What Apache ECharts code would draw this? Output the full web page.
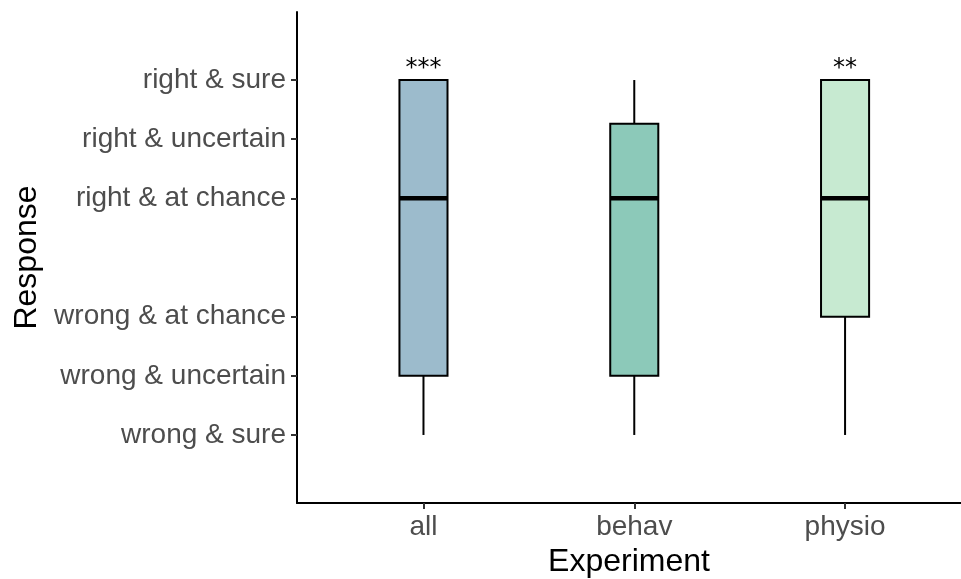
<!DOCTYPE html>
<html><head><meta charset="utf-8">
<script src="https://cdn.jsdelivr.net/npm/echarts@6/dist/echarts.min.js"></script>
<style>html,body{margin:0;padding:0;background:#fff}#c{width:961px;height:579px}</style>
</head><body><div id="c"></div>
<script>
const categories = ['all', 'behav', 'physio'];
const lowWhisker = [-3, -3, -3];
const q1 = [-2, -2, -1];
const median = [1, 1, 1];
const q3 = [3, 2.26, 3];
const highWhisker = [3, 3, 3];
const stars = ['***', '', '**'];
const boxColors = ['#9CBBCC', '#8CC9B9', '#C7EAD1'];
const yTickValues = [-3, -2, -1, 1, 2, 3];
const yTickLabels = ['wrong & sure', 'wrong & uncertain', 'wrong & at chance', 'right & at chance', 'right & uncertain', 'right & sure'];

const data = categories.map((c, i) => [i + 1, lowWhisker[i], q1[i], median[i], q3[i], highWhisker[i], i]);

const chart = echarts.init(document.getElementById('c'), null, {renderer: 'canvas'});
chart.setOption({
  animation: false,
  backgroundColor: '#fff',
  grid: {left: 297, right: 0, top: 12, bottom: 76, containLabel: false, outerBoundsMode: 'none'},
  xAxis: {
    type: 'value', min: 0.4, max: 3.55,
    name: 'Experiment', nameLocation: 'middle', nameGap: 41,
    nameTextStyle: {fontFamily: 'Liberation Sans', fontSize: 32, color: '#000'},
    axisLine: {onZero: false, lineStyle: {color: '#000', width: 2}},
    axisTick: {customValues: [1, 2, 3], length: 6, lineStyle: {color: '#333', width: 2}},
    axisLabel: {customValues: [1, 2, 3], formatter: v => categories[Math.round(v) - 1],
      fontFamily: 'Liberation Sans', fontSize: 28, color: '#4D4D4D', margin: 10},
    splitLine: {show: false}
  },
  yAxis: {
    type: 'value', min: -4.15, max: 4.15,
    name: 'Response', nameLocation: 'middle', nameGap: 252, nameRotate: 90,
    nameTextStyle: {fontFamily: 'Liberation Sans', fontSize: 32, color: '#000'},
    axisLine: {onZero: false, show: true, lineStyle: {color: '#000', width: 2}},
    axisTick: {show: true, customValues: yTickValues, length: 6, lineStyle: {color: '#333', width: 2}},
    axisLabel: {customValues: yTickValues, formatter: v => yTickLabels[yTickValues.indexOf(Math.round(v))],
      fontFamily: 'Liberation Sans', fontSize: 28, color: '#4D4D4D', margin: 11},
    splitLine: {show: false}
  },
  series: [{
    type: 'custom',
    data: data,
    encode: {x: 0, y: [1, 2, 3, 4, 5]},
    renderItem: function (params, api) {
      const x = api.value(0);
      const idx = api.value(6);
      const pLow = api.coord([x, api.value(1)]);
      const pQ1 = api.coord([x, api.value(2)]);
      const pMed = api.coord([x, api.value(3)]);
      const pQ3 = api.coord([x, api.value(4)]);
      const pHigh = api.coord([x, api.value(5)]);
      const w = api.size([1, 0])[0] * 0.228;
      const cx = pMed[0];
      const children = [
        {type: 'line', shape: {x1: cx, y1: pLow[1], x2: cx, y2: pQ1[1]}, style: {stroke: '#000', lineWidth: 2}},
        {type: 'line', shape: {x1: cx, y1: pQ3[1], x2: cx, y2: pHigh[1]}, style: {stroke: '#000', lineWidth: 2}},
        {type: 'rect', shape: {x: cx - w / 2, y: pQ3[1], width: w, height: pQ1[1] - pQ3[1]},
          style: {fill: boxColors[idx], stroke: '#000', lineWidth: 2}},
        {type: 'line', shape: {x1: cx - w / 2, y1: pMed[1], x2: cx + w / 2, y2: pMed[1]}, style: {stroke: '#000', lineWidth: 4.5}}
      ];
      if (stars[idx]) {
        children.push({type: 'text', x: cx, y: pHigh[1] - 11,
          style: {text: stars[idx], fill: '#000', font: '24px "DejaVu Sans"', align: 'center', verticalAlign: 'middle'}});
      }
      return {type: 'group', children: children};
    }
  }]
});
</script></body></html>
